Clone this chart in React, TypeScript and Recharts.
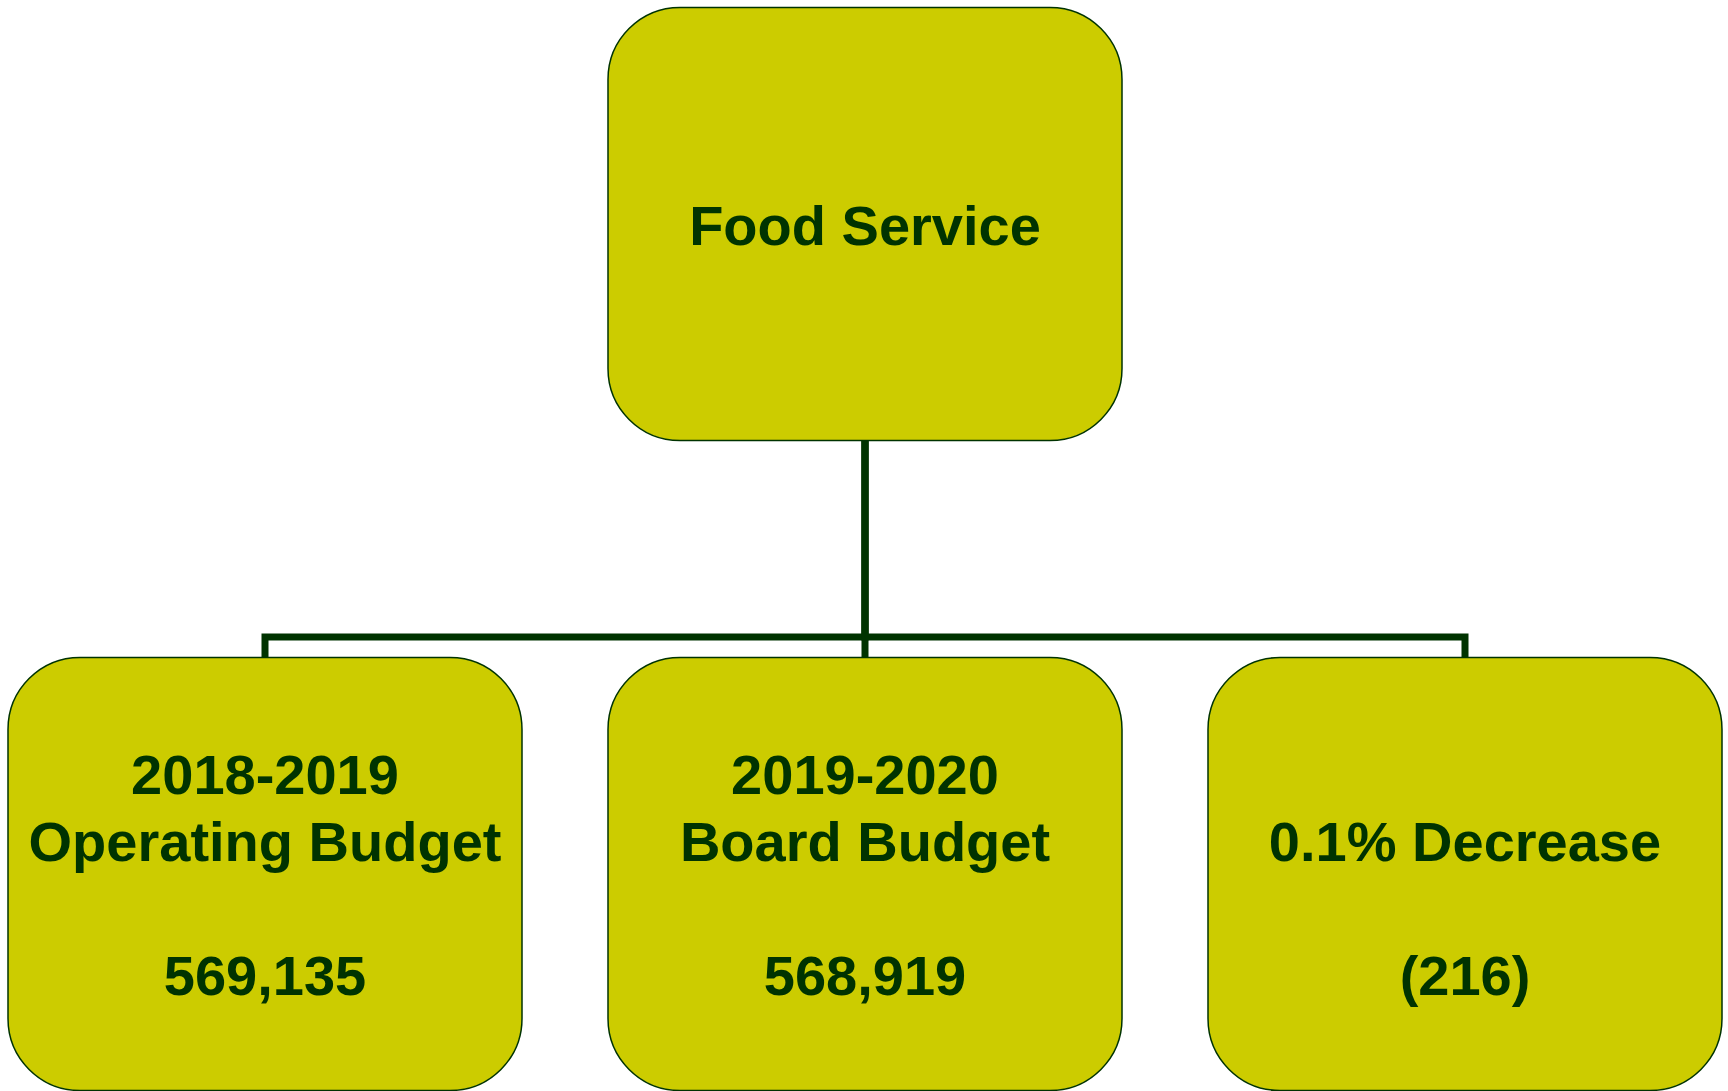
import { ScatterChart, Scatter, XAxis, YAxis } from "recharts";

// org chart nodes: one root and three children
const nodeLines: string[][] = [
  ["Food Service"],
  ["2018-2019", "Operating Budget", "", "569,135"],
  ["2019-2020", "Board Budget", "", "568,919"],
  ["", "0.1% Decrease", "", "(216)"],
];
const nodeCols = [1, 0, 1, 2];
const nodeLevels = [0, 1, 1, 1];
const nodeParents = [-1, 0, 0, 0];

const WIDTH = 1728;
const HEIGHT = 1091;
const MARGIN = { top: 224, right: 263, bottom: 217, left: 265 };
const PLOT_H = HEIGHT - MARGIN.top - MARGIN.bottom;
const BOX_W = 514;
const BOX_H = 433;
const HALF_LEVEL = BOX_H / 2 / PLOT_H;
const BUS_LEVEL = (637 - MARGIN.top) / PLOT_H;

const FILL = "#CCCC00";
const INK = "#003300";
const FONT_SIZE = 56;
const LINE_H = 67;

const nodes = nodeLines.map((lines, i) => ({
  col: nodeCols[i],
  level: nodeLevels[i],
  lines,
}));

// elbow connector from parent bottom to child top, via the bus line
const edges = nodes
  .map((n, i) => ({ n, p: nodeParents[i] }))
  .filter((e) => e.p >= 0)
  .map(({ n, p }) => [
    { col: nodes[p].col, level: nodes[p].level + HALF_LEVEL },
    { col: nodes[p].col, level: BUS_LEVEL },
    { col: n.col, level: BUS_LEVEL },
    { col: n.col, level: n.level - HALF_LEVEL },
  ]);

const NodeBox = (props: any) => {
  const { cx, cy, payload } = props;
  const lines: string[] = payload.lines;
  const first = cy - (lines.length * LINE_H) / 2 + 54;
  return (
    <g>
      <rect
        x={cx - BOX_W / 2}
        y={cy - BOX_H / 2}
        width={BOX_W}
        height={BOX_H}
        rx={72}
        ry={72}
        fill={FILL}
        stroke={INK}
        strokeWidth={1.5}
      />
      <text
        textAnchor="middle"
        fontFamily="'Liberation Sans', Arial, sans-serif"
        fontWeight="bold"
        fontSize={FONT_SIZE}
        fill={INK}
      >
        {lines.map((t, i) => (
          <tspan key={i} x={cx} y={first + i * LINE_H}>
            {t}
          </tspan>
        ))}
      </text>
    </g>
  );
};

export default function App() {
  return (
    <div style={{ position: "absolute", left: 0, top: 0, background: "#fff" }}>
      <ScatterChart width={WIDTH} height={HEIGHT} margin={MARGIN}>
        <XAxis type="number" dataKey="col" domain={[0, 2]} hide />
        <YAxis type="number" dataKey="level" domain={[0, 1]} reversed hide />
        {edges.map((pts, i) => (
          <Scatter
            key={`edge-${i}`}
            data={pts}
            line={{ stroke: INK, strokeWidth: 7, strokeLinejoin: "miter" }}
            shape={() => <g />}
            legendType="none"
            isAnimationActive={false}
          />
        ))}
        <Scatter
          data={nodes}
          shape={(p: any) => <NodeBox {...p} />}
          isAnimationActive={false}
        />
      </ScatterChart>
    </div>
  );
}
